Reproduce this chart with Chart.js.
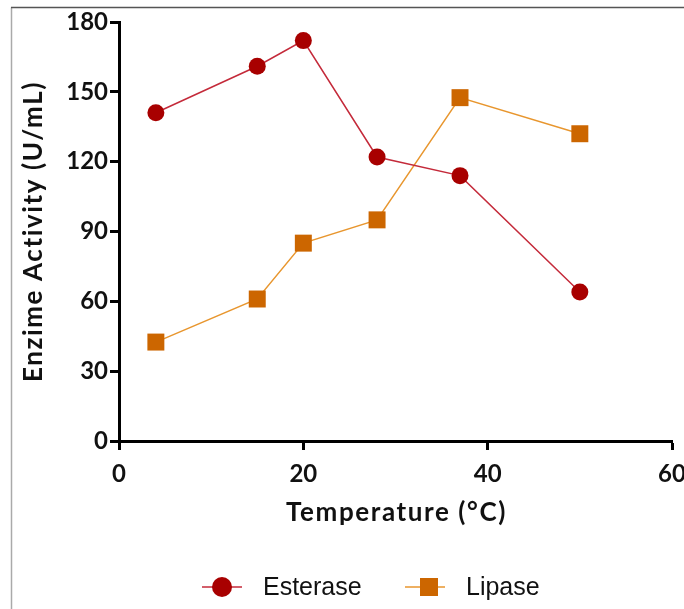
<!DOCTYPE html>
<html>
<head>
<meta charset="utf-8">
<style>
  html, body { margin: 0; padding: 0; background: #fff; }
  #wrap { position: relative; width: 684px; height: 609px; }
</style>
<script src="https://cdn.jsdelivr.net/npm/chart.js@4/dist/chart.umd.min.js"></script>
</head>
<body>
<div id="wrap"><canvas id="chart"></canvas></div>
<script>
// temperatures (°C) and enzyme activity (U/mL)
const esteraseTemps = [4, 15, 20, 28, 37, 50];
const esteraseValues = [141, 161, 172, 122, 114, 64];
const lipaseTemps = [4, 15, 20, 28, 37, 50];
const lipaseValues = [42.5, 61, 85, 95, 147.5, 132];
const xTicks = [0, 20, 40, 60];
const yTicks = [0, 30, 60, 90, 120, 150, 180];
const xTitle = 'Temperature (°C)';
const yTitle = 'Enzime Activity (U/mL)';

const toPoints = (xs, ys) => xs.map((x, i) => ({ x, y: ys[i] }));

const tickFont = { family: 'Lato', weight: 'bold', size: 24 };

// frame, spaced axis titles and line/marker legend drawn by hand
const extras = {
  id: 'extras',
  beforeDraw(chart) {
    const c = chart.ctx;
    c.save();
    c.lineWidth = 1.5;
    c.strokeStyle = '#aaa';
    c.beginPath();
    c.moveTo(11.5, 609);
    c.lineTo(11.5, 7.5);
    c.stroke();
    c.strokeStyle = '#555';
    c.beginPath();
    c.moveTo(11, 7.5);
    c.lineTo(684, 7.5);
    c.stroke();
    c.restore();
  },
  afterDraw(chart) {
    const c = chart.ctx;
    const { left, right, top, bottom } = chart.chartArea;
    c.save();
    c.fillStyle = '#111';
    c.font = 'bold 26px Lato, sans-serif';
    c.letterSpacing = '1.6px';
    c.textAlign = 'center';
    c.textBaseline = 'middle';
    c.fillText(xTitle, (left + right) / 2 + 1, bottom + 72);
    c.translate(34, (top + bottom) / 2);
    c.rotate(-Math.PI / 2);
    c.fillText(yTitle, 0, 0);
    c.restore();

    const y = 587;
    let x = 202;
    c.save();
    c.font = '25px "Liberation Sans", Arial, sans-serif';
    c.textBaseline = 'middle';
    chart.data.datasets.forEach((ds) => {
      c.strokeStyle = ds.borderColor;
      c.lineWidth = 1.5;
      c.beginPath();
      c.moveTo(x, y);
      c.lineTo(x + 40, y);
      c.stroke();
      c.fillStyle = ds.pointBackgroundColor;
      if (ds.pointStyle === 'rect') {
        c.fillRect(x + 15, y - 9, 18, 18);
      } else {
        c.beginPath();
        c.arc(x + 20, y, 10, 0, Math.PI * 2);
        c.fill();
      }
      c.fillStyle = '#111';
      c.fillText(ds.label, x + 61, y + 1);
      x += 203;
    });
    c.restore();
  },
};

new Chart(document.getElementById('chart'), {
  type: 'scatter',
  data: {
    datasets: [
      {
        label: 'Esterase',
        data: toPoints(esteraseTemps, esteraseValues),
        showLine: true,
        borderColor: '#c42a3a',
        borderWidth: 1.5,
        pointStyle: 'circle',
        pointRadius: 8.5,
        pointBorderWidth: 0,
        pointBackgroundColor: '#a80000',
      },
      {
        label: 'Lipase',
        data: toPoints(lipaseTemps, lipaseValues),
        showLine: true,
        borderColor: '#e8962e',
        borderWidth: 1.5,
        pointStyle: 'rect',
        pointRadius: 12,
        pointBorderWidth: 0,
        pointBackgroundColor: '#cc6600',
      },
    ],
  },
  options: {
    responsive: true,
    maintainAspectRatio: false,
    animation: false,
    layout: { padding: { left: 0, right: 12, top: 22, bottom: 0 } },
    plugins: {
      legend: { display: false },
      tooltip: { enabled: false },
    },
    scales: {
      x: {
        type: 'linear',
        min: 0,
        max: 60,
        afterBuildTicks: (s) => { s.ticks = xTicks.map((v) => ({ value: v })); },
        afterFit: (s) => { s.height = 168; s.paddingLeft = 0; s.paddingRight = 0; },
        border: { color: '#000', width: 3 },
        grid: { drawOnChartArea: false, tickLength: 9, tickWidth: 3, tickColor: '#000' },
        ticks: { color: '#111', font: tickFont, padding: 10, maxRotation: 0 },
      },
      y: {
        min: 0,
        max: 180,
        afterBuildTicks: (s) => { s.ticks = yTicks.map((v) => ({ value: v })); },
        afterFit: (s) => { s.width = 119; s.paddingTop = 0; s.paddingBottom = 0; },
        border: { color: '#000', width: 3 },
        grid: { drawOnChartArea: false, tickLength: 9, tickWidth: 3, tickColor: '#000' },
        ticks: { color: '#111', font: tickFont, padding: 2 },
      },
    },
  },
  plugins: [extras],
});
</script>
</body>
</html>
